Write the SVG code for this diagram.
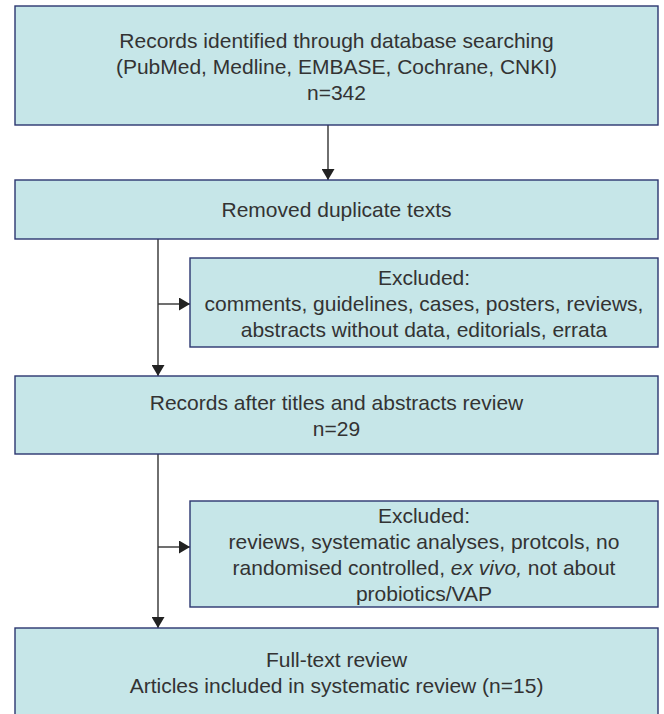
<svg xmlns="http://www.w3.org/2000/svg" width="664" height="714" viewBox="0 0 664 714">
  <defs>
    <style>
      .box { fill: #c6e6e8; stroke: #2b3670; stroke-width: 1.4; }
      .t { font-family: "Liberation Sans", Arial, sans-serif; font-size: 21px; fill: #333333; text-anchor: middle; }
      .c { stroke: #333333; stroke-width: 1.4; fill: none; }
    </style>
    <marker id="ah" markerUnits="userSpaceOnUse" markerWidth="12" markerHeight="13" refX="11" refY="6.5" orient="auto">
      <path d="M0,0 L11,6.5 L0,13 Z" fill="#222222"/>
    </marker>
  </defs>
  <rect width="664" height="714" fill="#ffffff"/>

  <g id="connectors">
    <line class="c" x1="328" y1="125" x2="328" y2="180" marker-end="url(#ah)"/>
    <line class="c" x1="158" y1="239" x2="158" y2="376" marker-end="url(#ah)"/>
    <line class="c" x1="158" y1="304" x2="190" y2="304" marker-end="url(#ah)"/>
    <line class="c" x1="158" y1="454" x2="158" y2="628" marker-end="url(#ah)"/>
    <line class="c" x1="158" y1="547" x2="190" y2="547" marker-end="url(#ah)"/>
  </g>

  <g id="records-identified">
    <rect class="box" x="15" y="6" width="643" height="119"/>
    <text class="t" x="336.5" y="47.5">Records identified through database searching</text>
    <text class="t" x="336.5" y="73.5">(PubMed, Medline, EMBASE, Cochrane, CNKI)</text>
    <text class="t" x="336.5" y="99.5">n=342</text>
  </g>

  <g id="removed-duplicates">
    <rect class="box" x="15" y="180" width="643" height="59"/>
    <text class="t" x="336.5" y="216.5">Removed duplicate texts</text>
  </g>

  <g id="excluded-1">
    <rect class="box" x="190" y="258" width="468" height="89"/>
    <text class="t" x="424" y="284.5">Excluded:</text>
    <text class="t" x="424" y="310.5">comments, guidelines, cases, posters, reviews,</text>
    <text class="t" x="424" y="336.5">abstracts without data, editorials, errata</text>
  </g>

  <g id="records-after-review">
    <rect class="box" x="15" y="376" width="643" height="78"/>
    <text class="t" x="336.5" y="409.5">Records after titles and abstracts review</text>
    <text class="t" x="336.5" y="435.5">n=29</text>
  </g>

  <g id="excluded-2">
    <rect class="box" x="190" y="501" width="468" height="106"/>
    <text class="t" x="424" y="522.5">Excluded:</text>
    <text class="t" x="424" y="548.5">reviews, systematic analyses, protcols, no</text>
    <text class="t" x="424" y="574.5">randomised controlled, <tspan font-style="italic">ex vivo,</tspan> not about</text>
    <text class="t" x="424" y="600.5">probiotics/VAP</text>
  </g>

  <g id="full-text-review">
    <rect class="box" x="15" y="628" width="643" height="100"/>
    <text class="t" x="336.5" y="666.5">Full-text review</text>
    <text class="t" x="336.5" y="692.5">Articles included in systematic review (n=15)</text>
  </g>
</svg>
